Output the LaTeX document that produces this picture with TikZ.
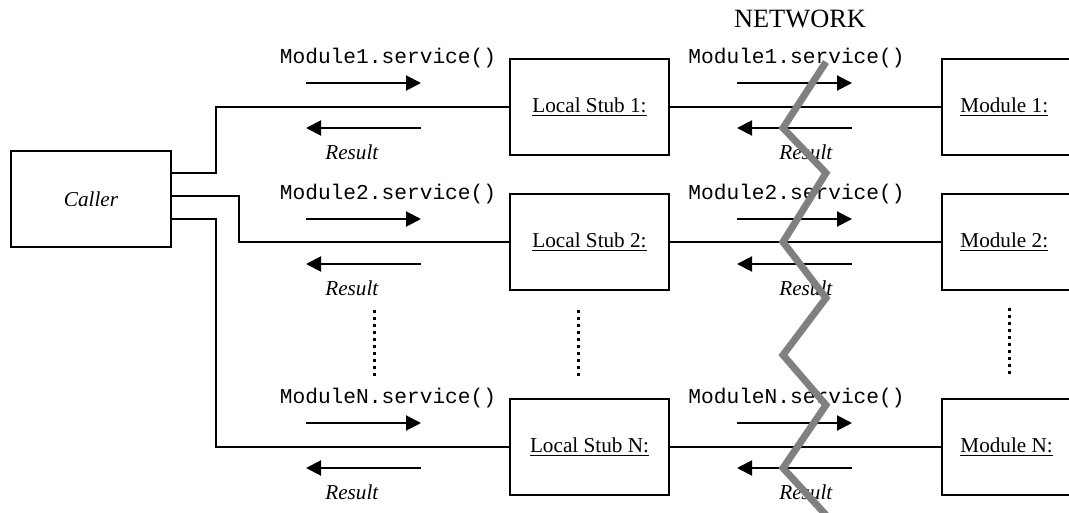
\documentclass[tikz,border=0pt]{standalone}
\usepackage{fontspec}
\setmainfont{Liberation Serif}
\setmonofont{Liberation Mono}
\usetikzlibrary{arrows.meta}
\begin{document}
\begin{tikzpicture}[x=0.5pt,y=-0.5pt,
  txt/.style={inner sep=0pt, font=\fontsize{10.6}{12}\selectfont},
  box/.style={draw, line width=1pt, minimum width=79.5pt, minimum height=48pt, inner sep=0pt, font=\fontsize{10.6}{12}\selectfont},
  modbox/.style={box, anchor=west},
  wire/.style={line width=1pt},
  arr/.style={line width=1pt, -{Triangle[length=7.5pt,width=7.5pt]}},
  dots/.style={line width=1.5pt, dash pattern=on 1.5pt off 2pt},
  net/.style={line width=3.5pt, draw=black!50}]
\useasboundingbox (0,0) rectangle (1069,513);
\clip (0,0) rectangle (1069,513);

% caller
\node[box, minimum width=80pt] (caller) at (91,199) {\textit{Caller}};

% stubs and modules
\node[box] (s1) at (589.5,107) {\underline{Local Stub 1:}};
\node[box] (s2) at (589.5,242) {\underline{Local Stub 2:}};
\node[box] (sN) at (589.5,447) {\underline{Local Stub N:}};
\node[modbox] (m1) at (941,107) {};
\node[modbox] (m2) at (941,242) {};
\node[modbox] (mN) at (941,447) {};
\node[txt, anchor=west] (m1l) at (960,107) {\underline{Module 1:}};
\node[txt, anchor=west] (m2l) at (960,242) {\underline{Module 2:}};
\node[txt, anchor=west] (mNl) at (960,447) {\underline{Module N:}};

% wires
\draw[wire] (caller.east |- 0,173) -- (216,173) |- (s1.west);
\draw[wire] (caller.east |- 0,196.5) -- (239,196.5) |- (s2.west);
\draw[wire] (caller.east |- 0,219) -- (216,219) |- (sN.west);
\draw[wire] (s1.east) -- (m1.west);
\draw[wire] (s2.east) -- (m2.west);
\draw[wire] (sN.east) -- (mN.west);

% labels and arrows
\foreach \n/\y in {1/106,2/242,N/446}{
  \node[txt] (ls\n) at (388,\y-48) {\texttt{Module\n.service()}};
  \node[txt] (rs\n) at (796.5,\y-48) {\texttt{Module\n.service()}};
  \node[txt] (lr\n) at (352,\y+46) {\textit{Result}};
  \node[txt] (rr\n) at (806,\y+46) {\textit{Result}};
  \coordinate (la\n) at (306,\y-23);
  \coordinate (lb\n) at (421,\y-23);
  \coordinate (lc\n) at (421,\y+22);
  \coordinate (ld\n) at (306,\y+22);
  \coordinate (ra\n) at (737,\y-23);
  \coordinate (rb\n) at (852,\y-23);
  \coordinate (rc\n) at (852,\y+22);
  \coordinate (rd\n) at (737,\y+22);
  \draw[arr] (la\n) -- (lb\n);
  \draw[arr] (lc\n) -- (ld\n);
  \draw[arr] (ra\n) -- (rb\n);
  \draw[arr] (rc\n) -- (rd\n);
}

% vertical dots
\coordinate (d1a) at (374,310);
\coordinate (d1b) at (374,378);
\coordinate (d2a) at (578,310);
\coordinate (d2b) at (578,378);
\coordinate (d3a) at (1009,308);
\coordinate (d3b) at (1009,376);
\draw[dots] (d1a) -- (d1b);
\draw[dots] (d2a) -- (d2b);
\draw[dots] (d3a) -- (d3b);

% network
\node[inner sep=0pt, font=\fontsize{13.2}{15}\selectfont] (network) at (800,19) {NETWORK};
\draw[net] (826,62) -- (783,128) -- (826,173) -- (783,242) -- (826,298)
  -- (783,355) -- (826,405) -- (783,468) -- (826,515);
\end{tikzpicture}
\end{document}
